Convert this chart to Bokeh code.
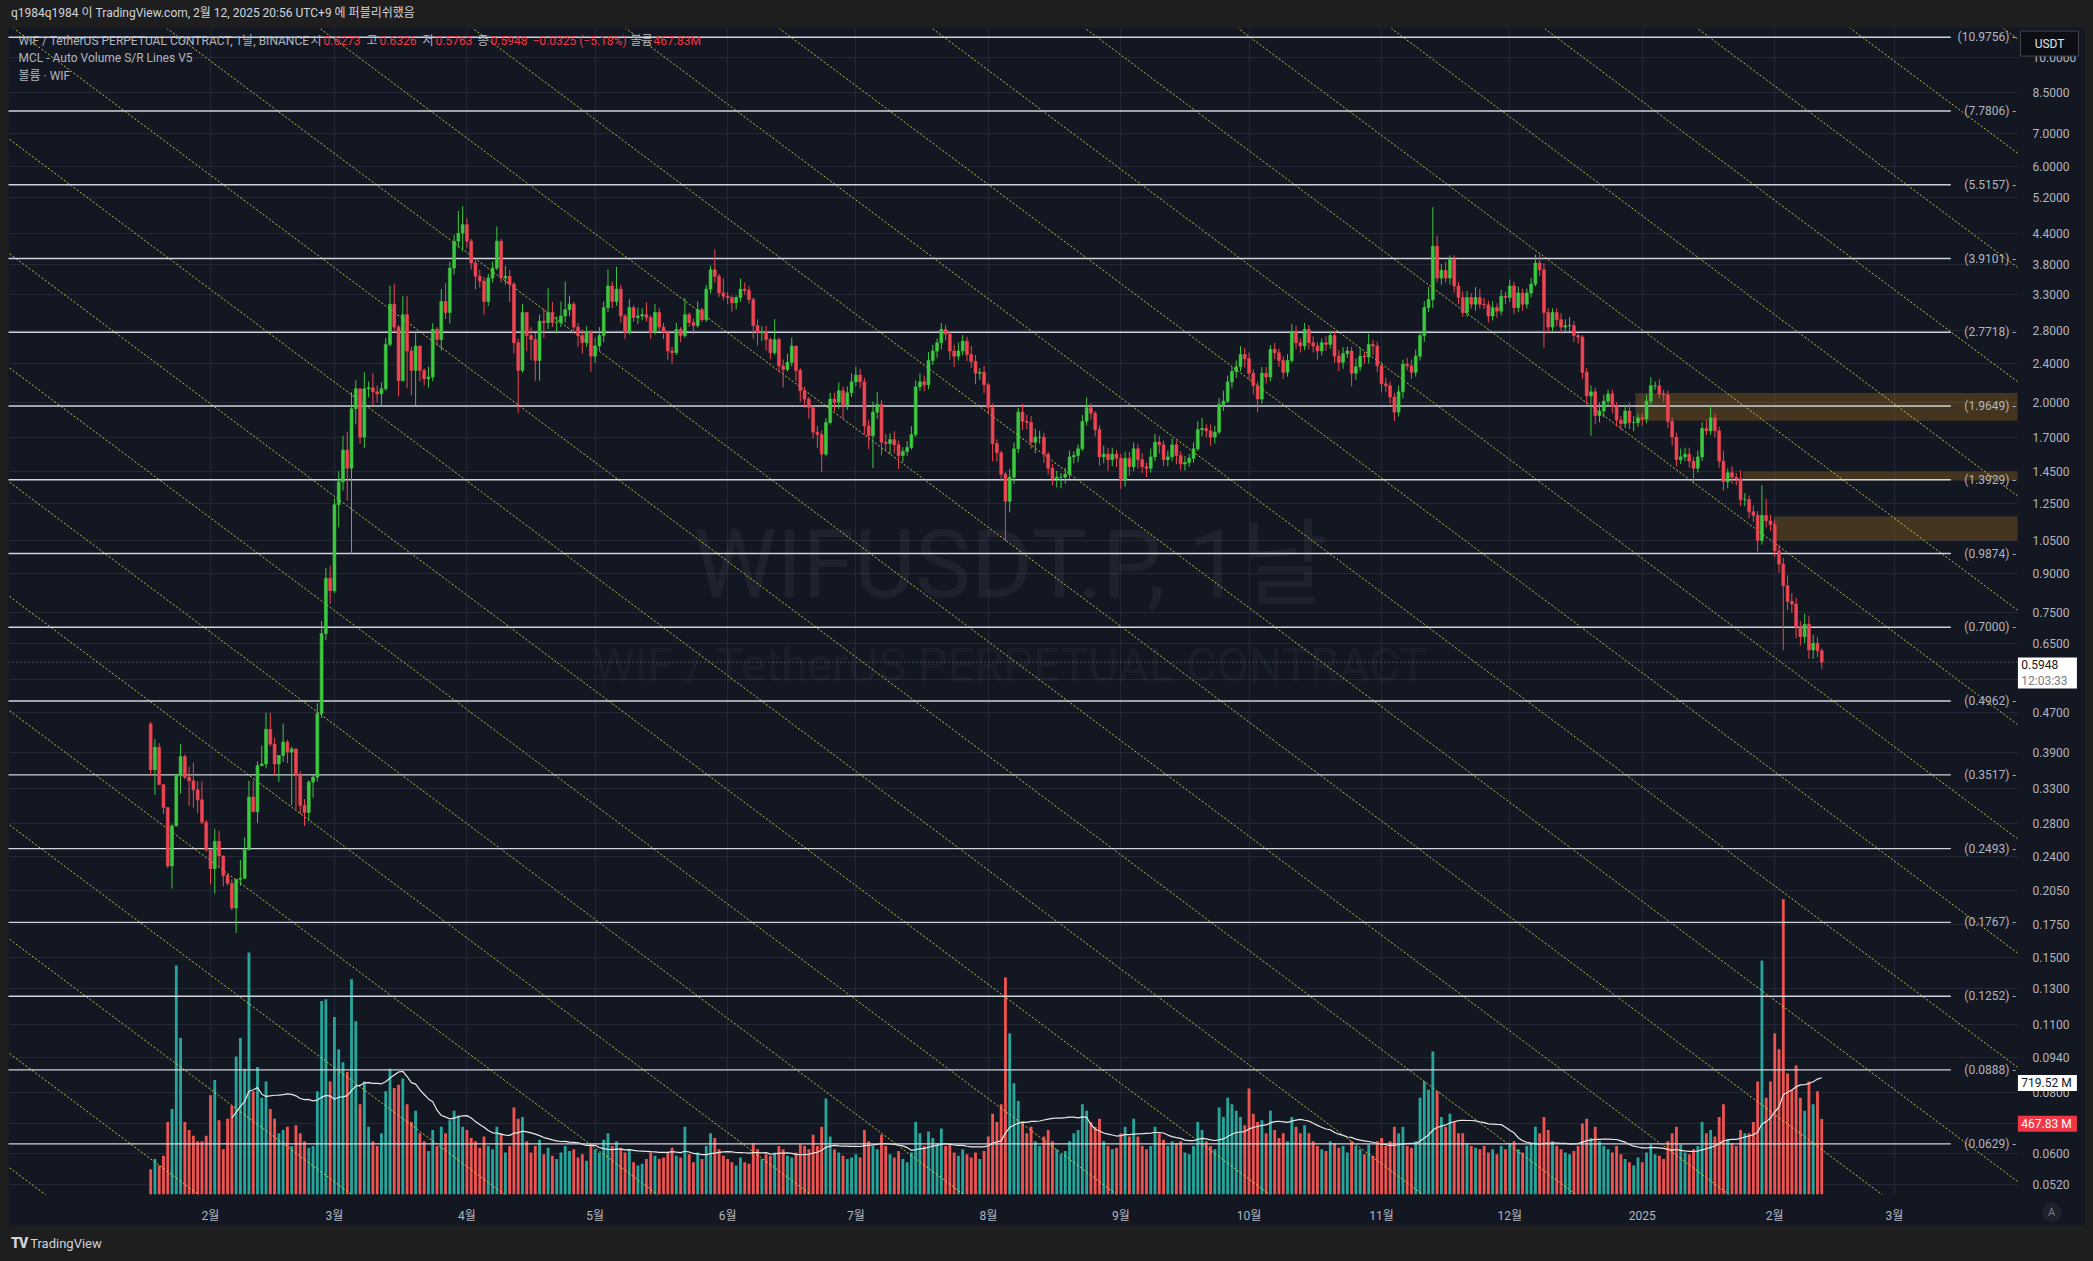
import numpy as np
import pandas as pd
from bokeh.plotting import figure
from bokeh.models import (Range1d, FixedTicker, PrintfTickFormatter, Label, Div, LinearScale, GridBox)
from bokeh.layouts import column
from bokeh.core.properties import value
from bokeh.embed import file_html
from bokeh.resources import INLINE

# ---------------- data (daily candles, day 0 = 2024-02-01) ----------------
FIRST_DAY = -14          # 2024-01-18
FIRST_OPEN = 0.446

close_jan24 = [0.360, 0.400, 0.336, 0.302, 0.230, 0.277, 0.350, 0.383, 0.348, 0.342, 0.328, 0.313, 0.282, 0.248]
close_feb24 = [0.227, 0.258, 0.241, 0.220, 0.212, 0.189, 0.216, 0.217, 0.248, 0.317, 0.296, 0.367, 0.370, 0.435,
               0.406, 0.370, 0.385, 0.410, 0.391, 0.397, 0.351, 0.305, 0.295, 0.340, 0.348, 0.468, 0.68, 0.88, 0.83]
close_mar24 = [1.24, 1.38, 1.60, 1.47, 1.94, 2.13, 1.70, 2.13, 2.14, 2.10, 2.08, 2.13, 2.62, 3.16, 2.84, 2.21,
               3.01, 2.54, 2.32, 2.60, 2.32, 2.23, 2.25, 2.81, 2.68, 3.20, 3.04, 3.74, 4.24, 4.40, 4.58]
close_apr24 = [4.24, 3.83, 3.60, 3.52, 3.20, 3.57, 3.74, 4.24, 3.57, 3.60, 3.47, 2.64, 2.32, 3.04, 2.73, 2.68,
               2.43, 2.92, 2.90, 3.04, 2.90, 2.90, 2.99, 3.08, 3.16, 2.84, 2.73, 2.64, 2.77, 2.48]
close_may24 = [2.60, 2.73, 3.11, 3.44, 3.20, 3.39, 2.99, 2.77, 3.11, 2.97, 2.99, 3.01, 2.97, 2.77, 3.04, 2.84,
               2.77, 2.54, 2.52, 2.81, 2.73, 3.01, 2.90, 2.86, 3.08, 2.94, 3.39, 3.71, 3.60, 3.33, 3.28]
close_jun24 = [3.26, 3.18, 3.26, 3.39, 3.37, 3.23, 2.86, 2.77, 2.77, 2.68, 2.52, 2.68, 2.37, 2.33, 2.41, 2.60,
               2.32, 2.11, 2.03, 1.95, 1.74, 1.72, 1.57, 1.82, 2.03, 2.00, 2.11, 1.97, 2.09, 2.20]
close_jul24 = [2.27, 2.20, 1.79, 1.71, 1.91, 1.98, 1.66, 1.65, 1.68, 1.64, 1.56, 1.59, 1.62, 1.72, 2.15, 2.20,
               2.17, 2.43, 2.54, 2.64, 2.81, 2.75, 2.54, 2.48, 2.54, 2.66, 2.50, 2.42, 2.29, 2.30, 2.17]
close_aug24 = [1.95, 1.65, 1.58, 1.43, 1.26, 1.41, 1.61, 1.91, 1.83, 1.82, 1.66, 1.70, 1.70, 1.57, 1.47, 1.40,
               1.41, 1.41, 1.43, 1.55, 1.56, 1.61, 1.83, 1.95, 1.90, 1.76, 1.55, 1.57, 1.53, 1.57, 1.54]
close_sep24 = [1.39, 1.54, 1.48, 1.61, 1.53, 1.48, 1.47, 1.55, 1.66, 1.64, 1.53, 1.55, 1.64, 1.56, 1.50, 1.51,
               1.54, 1.61, 1.76, 1.77, 1.75, 1.70, 1.74, 1.98, 2.01, 2.20, 2.31, 2.36, 2.50, 2.45]
close_oct24 = [2.29, 2.16, 2.03, 2.29, 2.25, 2.56, 2.52, 2.43, 2.30, 2.43, 2.77, 2.64, 2.60, 2.81, 2.64, 2.60,
               2.54, 2.64, 2.62, 2.73, 2.48, 2.41, 2.51, 2.54, 2.29, 2.36, 2.48, 2.47, 2.62, 2.60, 2.37]
close_nov24 = [2.18, 2.16, 2.05, 1.91, 2.10, 2.39, 2.37, 2.30, 2.48, 2.73, 3.11, 3.23, 4.14, 3.57, 3.70, 3.57,
               3.89, 3.44, 3.26, 3.04, 3.26, 3.16, 3.26, 3.16, 3.15, 2.99, 3.11, 3.06, 3.28, 3.26]
close_dec24 = [3.44, 3.11, 3.33, 3.16, 3.33, 3.47, 3.83, 3.71, 3.04, 2.84, 3.04, 2.94, 2.84, 2.86, 2.86, 2.73,
               2.71, 2.30, 2.06, 2.10, 1.88, 1.92, 2.01, 2.08, 1.96, 1.84, 1.81, 1.92, 1.82, 1.82, 1.86]
close_jan25 = [1.85, 2.01, 2.16, 2.16, 2.08, 2.07, 1.83, 1.70, 1.53, 1.55, 1.57, 1.52, 1.47, 1.55, 1.77, 1.75,
               1.86, 1.75, 1.52, 1.38, 1.44, 1.41, 1.40, 1.27, 1.27, 1.20, 1.18, 1.05, 1.18, 1.15, 1.13]
close_feb25 = [1.00, 0.94, 0.85, 0.79, 0.78, 0.70, 0.67, 0.71, 0.63, 0.65, 0.6273, 0.5948]

# upper / lower wick length in percent of the candle body edge
up_jan24 = [1, 4, 2, 0, 0, 1, 1, 6, 1, 5, 9, 4, 9, 1]
dn_jan24 = [3, 11, 0, 3, 1, 10, 0, 8, 1, 11, 8, 6, 1, 1]
up_feb24 = [0, 6, 5, 0, 1, 2, 0, 9, 6, 8, 8, 2, 9, 8, 8, 3, 0, 9, 1, 1, 0, 2, 3, 1, 1, 5, 6, 5, 6]
dn_feb24 = [7, 11, 5, 5, 1, 1, 11, 3, 0, 0, 0, 5, 0, 2, 1, 5, 8, 3, 5, 22, 15, 4, 6, 4, 7, 2, 2, 3, 6]
up_mar24 = [3, 5, 7, 9, 8, 4, 0, 8, 3, 7, 3, 3, 3, 9, 10, 1, 9, 9, 2, 6, 0, 1, 5, 3, 1, 6, 9, 3, 3, 11, 9]
dn_mar24 = [1, 10, 4, 14, 33, 7, 3, 5, 4, 6, 4, 6, 1, 1, 2, 7, 0, 16, 11, 15, 5, 3, 4, 2, 3, 5, 3, 5, 3, 3, 8]
up_apr24 = [3, 1, 2, 3, 2, 2, 3, 7, 1, 5, 3, 1, 2, 4, 0, 4, 3, 3, 6, 12, 5, 3, 7, 14, 4, 1, 2, 3, 3, 1]
dn_apr24 = [3, 3, 6, 3, 6, 2, 2, 1, 2, 3, 8, 5, 18, 1, 7, 9, 9, 9, 7, 3, 2, 5, 2, 3, 3, 3, 5, 5, 2, 7]
up_may24 = [4, 4, 3, 8, 2, 11, 2, 1, 4, 1, 4, 3, 6, 1, 4, 2, 2, 1, 2, 3, 1, 8, 1, 2, 4, 1, 2, 2, 10, 1, 7]
dn_may24 = [3, 2, 3, 2, 3, 2, 3, 3, 1, 2, 3, 2, 2, 3, 1, 2, 3, 4, 5, 1, 3, 1, 2, 4, 1, 1, 1, 2, 3, 2, 2]
up_jun24 = [2, 1, 1, 5, 3, 2, 1, 3, 3, 3, 1, 10, 1, 3, 4, 4, 0, 1, 2, 1, 1, 3, 2, 2, 3, 3, 4, 2, 3, 4]
dn_jun24 = [3, 4, 3, 2, 2, 2, 6, 6, 4, 5, 3, 1, 3, 8, 1, 2, 5, 5, 4, 5, 3, 6, 8, 1, 1, 4, 3, 6, 2, 2]
up_jul24 = [4, 3, 2, 3, 5, 6, 2, 4, 3, 4, 2, 2, 3, 4, 3, 4, 3, 4, 3, 2, 3, 2, 1, 3, 4, 3, 2, 4, 3, 2, 3]
dn_jul24 = [2, 3, 4, 6, 14, 3, 6, 3, 5, 4, 6, 3, 2, 1, 1, 2, 3, 2, 2, 3, 3, 3, 4, 5, 2, 2, 3, 3, 5, 3, 4]
up_aug24 = [1, 2, 2, 1, 1, 4, 3, 2, 4, 3, 3, 4, 3, 2, 1, 2, 3, 2, 3, 3, 2, 2, 3, 5, 2, 1, 2, 4, 3, 3, 2]
dn_aug24 = [3, 8, 4, 3, 17, 5, 3, 2, 4, 3, 3, 5, 3, 4, 3, 3, 4, 5, 3, 2, 3, 3, 1, 2, 3, 3, 4, 3, 5, 3, 4]
up_sep24 = [2, 3, 3, 3, 2, 3, 2, 4, 4, 3, 2, 3, 3, 2, 2, 3, 2, 3, 4, 5, 2, 3, 3, 3, 5, 3, 2, 3, 4, 3]
dn_sep24 = [4, 3, 4, 2, 4, 3, 4, 2, 2, 4, 3, 3, 2, 4, 3, 3, 2, 2, 1, 3, 3, 4, 3, 1, 3, 1, 3, 3, 2, 4]
up_oct24 = [3, 2, 2, 3, 3, 2, 3, 2, 2, 3, 4, 3, 2, 3, 2, 3, 2, 2, 3, 2, 2, 3, 3, 2, 2, 4, 4, 2, 5, 2, 2]
dn_oct24 = [3, 4, 6, 2, 3, 2, 3, 3, 3, 2, 1, 3, 3, 2, 3, 3, 4, 2, 3, 2, 3, 4, 3, 2, 6, 3, 2, 3, 3, 4, 3]
up_nov24 = [2, 3, 2, 2, 3, 2, 3, 3, 3, 2, 3, 6, 20, 5, 3, 4, 2, 2, 2, 3, 3, 2, 5, 4, 3, 2, 3, 2, 3, 2]
dn_nov24 = [4, 3, 3, 4, 2, 3, 2, 3, 2, 2, 3, 2, 4, 2, 3, 2, 3, 3, 3, 2, 2, 2, 3, 2, 2, 3, 2, 3, 2, 3]
up_dec24 = [3, 2, 3, 2, 2, 3, 4, 4, 3, 2, 2, 2, 3, 3, 4, 2, 1, 1, 2, 3, 2, 4, 3, 2, 2, 2, 2, 3, 4, 3, 2]
dn_dec24 = [2, 3, 2, 3, 2, 2, 1, 3, 15, 3, 2, 3, 3, 2, 3, 3, 3, 3, 4, 17, 4, 3, 3, 2, 3, 3, 3, 2, 3, 4, 2]
up_jan25 = [2, 3, 4, 2, 3, 2, 2, 2, 2, 4, 3, 3, 2, 3, 3, 4, 6, 2, 2, 5, 2, 3, 2, 4, 3, 2, 3, 2, 15, 8, 3]
dn_jan25 = [3, 2, 2, 2, 2, 3, 3, 4, 3, 2, 2, 3, 7, 2, 2, 2, 2, 3, 3, 4, 3, 3, 3, 3, 3, 3, 3, 5, 2, 3, 3]
up_feb25 = [2, 3, 3, 5, 4, 3, 3, 5, 4, 4, 3, 1]
dn_feb25 = [3, 4, 26, 4, 4, 5, 4, 3, 4, 4, 3, 3]

# daily volume, millions
vol_jan24 = [157, 220, 180, 240, 450, 530, 1420, 970, 450, 400, 365, 330, 330, 365]
vol_feb24 = [616, 710, 460, 280, 470, 550, 855, 970, 780, 1500, 640, 790, 600, 700, 530, 470, 380, 400, 420,
             300, 430, 380, 330, 290, 300, 640, 1200, 1210, 700]
vol_mar24 = [1100, 900, 820, 760, 1335, 1075, 560, 700, 420, 330, 300, 380, 640, 780, 660, 680, 720, 560, 450,
             520, 380, 330, 270, 400, 300, 420, 380, 460, 520, 490, 420]
vol_apr24 = [400, 350, 330, 290, 360, 300, 280, 420, 380, 260, 300, 540, 470, 480, 330, 260, 300, 340, 250, 290,
             240, 220, 260, 300, 270, 280, 230, 250, 210, 300]
vol_may24 = [280, 260, 340, 380, 300, 330, 290, 260, 280, 200, 180, 190, 220, 260, 240, 220, 230, 260, 290, 240,
             230, 420, 250, 200, 260, 220, 300, 380, 350, 280, 240]
vol_jun24 = [220, 200, 180, 230, 200, 190, 320, 280, 220, 250, 240, 260, 300, 280, 240, 230, 260, 310, 300, 280,
             370, 300, 420, 595, 360, 280, 260, 240, 220, 230]
vol_jul24 = [250, 230, 400, 330, 300, 280, 370, 300, 250, 230, 270, 220, 200, 260, 450, 380, 300, 390, 350, 320,
             410, 300, 320, 260, 240, 280, 250, 230, 260, 220, 270]
vol_aug24 = [360, 500, 450, 560, 1346, 1000, 690, 580, 450, 380, 420, 330, 300, 360, 400, 330, 280, 250, 270, 330,
             380, 400, 560, 520, 450, 420, 470, 330, 300, 280, 290]
vol_sep24 = [380, 420, 360, 470, 360, 300, 280, 300, 420, 380, 340, 300, 330, 320, 330, 260, 250, 300, 450, 400,
             330, 300, 280, 540, 480, 600, 560, 520, 480, 430]
vol_oct24 = [657, 500, 450, 460, 380, 520, 400, 350, 380, 330, 480, 420, 380, 430, 380, 330, 300, 280, 270, 330,
             320, 290, 300, 260, 330, 300, 280, 250, 310, 240, 330]
vol_nov24 = [350, 300, 330, 420, 380, 420, 300, 290, 330, 600, 700, 650, 887, 640, 480, 420, 500, 450, 380, 380,
             320, 300, 290, 280, 300, 260, 280, 250, 300, 280]
vol_dec24 = [320, 330, 280, 260, 300, 320, 420, 380, 480, 400, 330, 300, 280, 260, 250, 270, 300, 440, 470, 350,
             420, 330, 300, 280, 260, 300, 250, 220, 200, 180, 230]
vol_jan25 = [200, 260, 310, 250, 240, 220, 330, 380, 420, 310, 260, 250, 280, 300, 450, 380, 400, 360, 480, 560,
             340, 320, 300, 400, 380, 380, 450, 700, 1450, 600, 700]
vol_feb25 = [1000, 900, 1830, 750, 650, 800, 600, 520, 700, 560, 640, 467.83]

# horizontal S/R levels and zones
levels = [10.9756, 7.7806, 5.5157, 3.9101, 2.7718, 1.9649, 1.3929, 0.9874, 0.7000, 0.4962,
          0.3517, 0.2493, 0.1767, 0.1252, 0.0888, 0.0629]
zone_start_day = [333.4, 358.5, 365.7]
zone_top = [2.089, 1.447, 1.174]
zone_bottom = [1.834, 1.388, 1.050]

price_ticks = [10.0, 8.5, 7.0, 6.0, 5.2, 4.4, 3.8, 3.3, 2.8, 2.4, 2.0, 1.7, 1.45, 1.25, 1.05, 0.9, 0.75, 0.65,
               0.55, 0.47, 0.39, 0.33, 0.28, 0.24, 0.205, 0.175, 0.15, 0.13, 0.11, 0.094, 0.08, 0.069, 0.06, 0.052]
month_ticks = [0, 29, 60, 90, 121, 151, 182, 213, 243, 274, 304, 335, 366, 394]
month_labels = ["2월", "3월", "4월", "5월", "6월", "7월", "8월", "9월", "10월", "11월", "12월", "2025", "2월", "3월"]

# diagonal channel lines: anchor price/day, spacing and slope (ln price per day)
DIAG_ANCHOR_PRICE = 11.02
DIAG_FIRST_DAY = -437.4
DIAG_SPACING = 35.81
DIAG_COUNT = 25
DIAG_SLOPE = 0.014885

LAST_PRICE = 0.5948
LAST_TIME = "12:03:33"
VOL_MA_LAST = 719.52
VOL_LAST = 467.83

# ---------------- assemble ----------------
closes = (close_jan24 + close_feb24 + close_mar24 + close_apr24 + close_may24 + close_jun24 + close_jul24 +
          close_aug24 + close_sep24 + close_oct24 + close_nov24 + close_dec24 + close_jan25 + close_feb25)
ups = (up_jan24 + up_feb24 + up_mar24 + up_apr24 + up_may24 + up_jun24 + up_jul24 + up_aug24 + up_sep24 +
       up_oct24 + up_nov24 + up_dec24 + up_jan25 + up_feb25)
dns = (dn_jan24 + dn_feb24 + dn_mar24 + dn_apr24 + dn_may24 + dn_jun24 + dn_jul24 + dn_aug24 + dn_sep24 +
       dn_oct24 + dn_nov24 + dn_dec24 + dn_jan25 + dn_feb25)
vols = (vol_jan24 + vol_feb24 + vol_mar24 + vol_apr24 + vol_may24 + vol_jun24 + vol_jul24 + vol_aug24 +
        vol_sep24 + vol_oct24 + vol_nov24 + vol_dec24 + vol_jan25 + vol_feb25)

n = len(closes)
days = np.arange(FIRST_DAY, FIRST_DAY + n)
opens = [FIRST_OPEN] + closes[:-1]
highs = [max(o, c) * (1 + u / 100.0) for o, c, u in zip(opens, closes, ups)]
lows = [min(o, c) * (1 - d / 100.0) for o, c, d in zip(opens, closes, dns)]
is_up = [c >= o for o, c in zip(opens, closes)]

UP_C, DN_C = "#3cc83f", "#ef4452"
VUP_C, VDN_C = "#26a69a", "#ef5350"
cand_col = [UP_C if u else DN_C for u in is_up]
vol_col = [VUP_C if u else VDN_C for u in is_up]
vol_abs = [v * 1e6 for v in vols]
vol_ma = pd.Series(vol_abs).rolling(20).mean()

BG = "#131722"
FONT = "Roboto, 'Noto Sans CJK KR', sans-serif"

FIG_W, FIG_H = 2077, 1198
X_START, X_END = -47.26, 422.8
Y_BOTTOM, Y_TOP = 0.04966, 11.435
VOL_TOP = 7230e6

p = figure(width=FIG_W, height=FIG_H, x_range=Range1d(X_START, X_END), y_range=Range1d(Y_BOTTOM, Y_TOP),
           y_axis_type="log", y_axis_location="right", output_backend="svg", toolbar_location=None,
           min_border_left=0, min_border_right=68, min_border_top=1, min_border_bottom=26,
           background_fill_color=BG, border_fill_color=BG, outline_line_color=None, margin=(0, 8, 0, 8))
p.frame_align = False
p.extra_y_ranges = {"vol": Range1d(0, VOL_TOP)}
p.extra_y_scales = {"vol": LinearScale()}

# axes
p.yaxis.ticker = FixedTicker(ticks=price_ticks, minor_ticks=[])
p.yaxis.formatter = PrintfTickFormatter(format="%.4f")
p.xaxis.ticker = FixedTicker(ticks=month_ticks, minor_ticks=[])
p.xaxis.major_label_overrides = {t: l for t, l in zip(month_ticks, month_labels)}
for ax in (p.xaxis[0], p.yaxis[0]):
    ax.axis_line_color = None
    ax.major_tick_line_color = None
    ax.minor_tick_line_color = None
    ax.major_label_text_color = "#b2b5be"
    ax.major_label_text_font_size = "12px"
    ax.major_label_text_font = FONT
p.yaxis.major_label_standoff = 9
p.xaxis.major_label_standoff = 8
p.ygrid.ticker = FixedTicker(ticks=price_ticks, minor_ticks=[])
p.xgrid.ticker = FixedTicker(ticks=month_ticks, minor_ticks=[])
p.grid.grid_line_color = "#232736"
p.grid.grid_line_width = 1

# watermark
p.add_layout(Label(x=1002, x_units="screen", y=0.935, text="WIFUSDT.P, 1날", text_align="center",
                   text_baseline="middle", text_font_size="94px", text_font=FONT, text_color="#ffffff",
                   text_alpha=0.05, level="underlay"))
p.add_layout(Label(x=1002, x_units="screen", y=0.588, text="WIF / TetherUS PERPETUAL CONTRACT", text_align="center",
                   text_baseline="middle", text_font_size="47px", text_font=FONT, text_color="#ffffff",
                   text_alpha=0.05, level="underlay"))

# volume
p.vbar(x=days, top=vol_abs, bottom=0, width=0.66, fill_color=vol_col, line_color=None, y_range_name="vol")
p.line(x=days, y=vol_ma, y_range_name="vol", line_color="#e8e8e8", line_width=1.2)

# zones
p.quad(left=zone_start_day, right=[X_END + 5] * len(zone_top), top=zone_top, bottom=zone_bottom,
       fill_color="#f7a21b", fill_alpha=0.22, line_color=None)

# diagonal channel lines
dx0, dx1 = X_START - 5, X_END + 5
for k in range(DIAG_COUNT):
    dk = DIAG_FIRST_DAY + k * DIAG_SPACING
    y0 = DIAG_ANCHOR_PRICE * np.exp(-DIAG_SLOPE * (dx0 - dk))
    y1 = DIAG_ANCHOR_PRICE * np.exp(-DIAG_SLOPE * (dx1 - dk))
    p.line(x=[dx0, dx1], y=[y0, y1], line_color="#e0e04a", line_alpha=0.85, line_width=1, line_dash="2 2")

# horizontal levels + labels
LEVEL_END = 407.2
p.segment(x0=[X_START - 5] * len(levels), x1=[LEVEL_END] * len(levels), y0=levels, y1=levels,
          line_color="#d1d4dc", line_width=1.4)
p.text(x=[X_END - 0.4] * len(levels), y=levels, text=["(%.4f) -" % v for v in levels], text_align="right",
       text_baseline="middle", text_font_size="12px", text_font=value(FONT), text_color="#b2b5be")

# last-price dotted line
p.line(x=[X_START, X_END], y=[LAST_PRICE, LAST_PRICE], line_color="#b2b5be", line_alpha=0.7,
       line_width=1, line_dash="1 3")

# candles
p.segment(x0=days, x1=days, y0=lows, y1=highs, line_color=cand_col, line_width=1)
p.vbar(x=days, top=[max(o, c) for o, c in zip(opens, closes)], bottom=[min(o, c) for o, c in zip(opens, closes)],
       width=0.68, fill_color=cand_col, line_color=cand_col, line_width=0.6)

# legend texts (top-left)
GRAY, RED = "#b2b5be", "#f23645"
pieces = [(10, "WIF / TetherUS PERPETUAL CONTRACT, 1날, BINANCE", GRAY), (302, "시", GRAY), (315, "0.6273", RED),
          (358, "고", GRAY), (371, "0.6326", RED), (414, "저", GRAY), (427, "0.5763", RED), (469, "종", GRAY),
          (482, "0.5948", RED), (524, "−0.0325 (−5.18%)", RED), (622, "볼륨", GRAY), (645, "467.83M", RED)]
for xpos, txt, col in pieces:
    p.add_layout(Label(x=xpos, x_units="screen", y=10.81, text=txt, text_color=col, text_font_size="12px",
                       text_font=FONT, text_baseline="middle"))
p.add_layout(Label(x=10, x_units="screen", y=9.95, text="MCL - Auto Volume S/R Lines V5", text_color=GRAY,
                   text_font_size="12px", text_font=FONT, text_baseline="middle"))
p.add_layout(Label(x=10, x_units="screen", y=9.15, text="볼륨 · WIF", text_color=GRAY,
                   text_font_size="12px", text_font=FONT, text_baseline="middle"))

# ---------------- transparent overlay for the price-scale badges ----------------
# same scales as the main chart, but its frame covers the whole canvas (incl. the price scale)
PX_PER_DAY = 4.273
PX_PER_LN = 215.3
Q_X_END = X_START + FIG_W / PX_PER_DAY
Q_Y_TOP = Y_TOP * np.exp(1 / PX_PER_LN)
Q_Y_BOTTOM = Y_BOTTOM * np.exp(-26 / PX_PER_LN)
VOL_PER_PX = VOL_TOP / 1171.0
q = figure(width=FIG_W, height=FIG_H, x_range=Range1d(X_START, Q_X_END), y_range=Range1d(Q_Y_BOTTOM, Q_Y_TOP),
           y_axis_type="log", x_axis_location=None, y_axis_location=None, output_backend="svg",
           toolbar_location=None, min_border=0, min_border_left=0, min_border_right=0, min_border_top=0,
           min_border_bottom=0, background_fill_alpha=0, border_fill_alpha=0,
           outline_line_color=None, margin=(0, 8, 0, 8))
q.frame_align = False
q.grid.visible = False
q.extra_y_ranges = {"vol": Range1d(-26 * VOL_PER_PX, VOL_TOP + VOL_PER_PX)}
q.extra_y_scales = {"vol": LinearScale()}

BADGE_X = X_END + 0.2 + 29.5 / PX_PER_DAY     # centre of a 59-px badge starting 1 px right of the plot
TEXT_X = X_END + 1.2 / PX_PER_DAY + 3 / PX_PER_DAY
# USDT currency box
q.rect(x=[BADGE_X + 0.5], y=[10.66], width=58, height=25, width_units="screen", height_units="screen",
       fill_color="#0c0e14", line_color="#434651", line_width=1)
q.text(x=[BADGE_X + 0.5], y=[10.66], text=["USDT"], text_align="center", text_baseline="middle",
       text_font_size="12px", text_font=value(FONT), text_color="#e0e3eb")
# last price + countdown
q.rect(x=[BADGE_X], y=[0.573], width=59, height=31, width_units="screen", height_units="screen",
       fill_color="#ffffff", line_color=None)
q.text(x=[TEXT_X, TEXT_X], y=[LAST_PRICE, 0.553], text=["%.4f" % LAST_PRICE, LAST_TIME],
       text_baseline="middle", text_font_size="12px", text_font=value(FONT), text_color=["#131722", "#787b86"])
# volume MA + last volume
q.rect(x=[BADGE_X, BADGE_X], y=[VOL_MA_LAST * 1e6, VOL_LAST * 1e6], width=59, height=16, width_units="screen",
       height_units="screen", fill_color=["#ffffff", "#f23645"], line_color=None, y_range_name="vol")
q.text(x=[TEXT_X, TEXT_X], y=[VOL_MA_LAST * 1e6, VOL_LAST * 1e6],
       text=["%.2f M" % VOL_MA_LAST, "%.2f M" % VOL_LAST], text_baseline="middle", text_font_size="12px",
       text_font=value(FONT), text_color=["#131722", "#ffffff"], y_range_name="vol")
# auto-scale button
q.scatter(x=[BADGE_X + 1], y=[0.0468], size=20, fill_color="#1e222d", line_color=None)
q.text(x=[BADGE_X + 1], y=[0.0468], text=["A"], text_align="center", text_baseline="middle",
       text_font_size="11px", text_font=value(FONT), text_color="#787b86")

chart = GridBox(children=[(p, 0, 0), (q, 0, 0)])

header = Div(text=('<div style="width:2093px;height:27px;background:#1e1e1e;color:#d1d4dc;'
                   'font:12px Roboto, \'Noto Sans CJK KR\', sans-serif;line-height:27px;padding-left:11px;'
                   'box-sizing:border-box;">q1984q1984 이 TradingView.com, 2월 12, 2025 20:56 UTC+9 에 퍼블리쉬했음</div>'),
             width=2093, height=27, margin=(0, 0, 0, 0))
footer = Div(text=('<div style="width:2093px;height:36px;background:#1e1e1e;color:#d1d4dc;'
                   'font:13px Roboto, sans-serif;line-height:36px;padding-left:11px;box-sizing:border-box;">'
                   '<span style="font-weight:900;font-size:14px;letter-spacing:-1px">TV</span> TradingView</div>'),
             width=2093, height=36, margin=(0, 0, 0, 0))

layout = column(header, chart, footer, spacing=0, styles={"background-color": "#1e1e1e"})
open("out.html", "w").write(file_html(layout, INLINE))
